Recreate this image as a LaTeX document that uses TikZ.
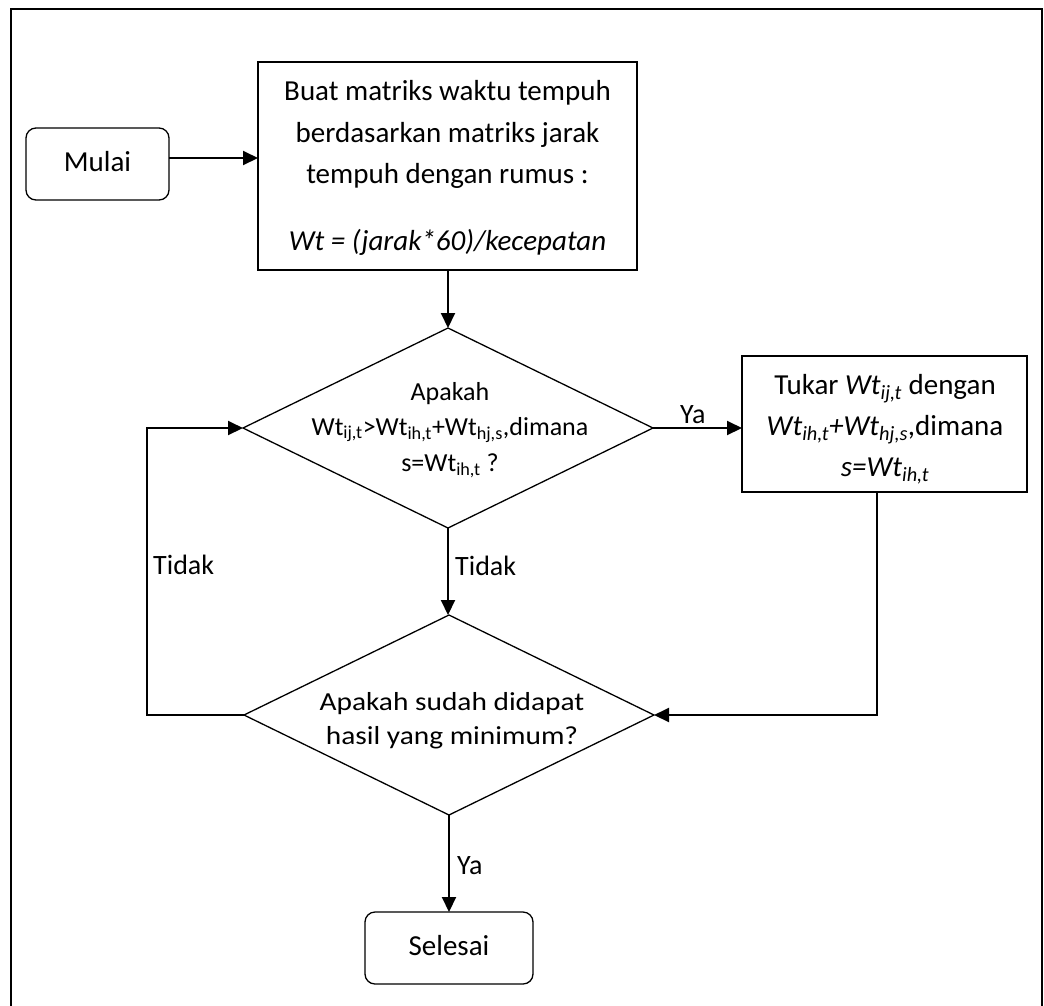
\documentclass[tikz,border=0pt]{standalone}
\usepackage{fontspec}
\setmainfont{Carlito}
\usetikzlibrary{arrows.meta,shapes.geometric}
\begin{document}
\begin{tikzpicture}[x=1pt,y=-1pt,
  shapeline/.style={draw, line width=1.3pt, inner sep=0pt, outer sep=0pt},
  term/.style={shapeline, rectangle, rounded corners=10pt},
  proc/.style={shapeline, rectangle},
  dec/.style={shapeline, diamond, minimum width=410pt, minimum height=200pt},
  conn/.style={line width=2pt, -{Triangle[length=15pt,width=14pt]}},
  plain/.style={line width=2pt},
  txt/.style={anchor=base, inner sep=0pt, font=\fontsize{29}{35}\selectfont},
  dtxt/.style={anchor=base, inner sep=0pt, font=\fontsize{26}{32}\selectfont},
  lbl/.style={anchor=base west, inner sep=0pt, font=\fontsize{28}{34}\selectfont}]
\useasboundingbox (0,0) rectangle (1044,1005);
\draw[plain] (11,1008) -- (11,9) -- (1042,9) -- (1042,1008);

% shapes
\node[term, minimum width=143pt, minimum height=72pt] (mulai) at (97.5,164) {};
\node[proc, minimum width=379pt, minimum height=208pt] (buat) at (447.5,166) {};
\node[dec] (d1) at (448,428) {};
\node[proc, minimum width=285pt, minimum height=136pt] (tukar) at (884.5,424) {};
\node[dec] (d2) at (449,715) {};
\node[term, minimum width=168pt, minimum height=72pt] (selesai) at (449,948) {};

% texts
\node[txt] (mulait) at (97.5,171.7) {Mulai};
\node[txt] (buat1) at (447.5,100) {Buat matriks waktu tempuh};
\node[txt] (buat2) at (447.5,142) {berdasarkan matriks jarak};
\node[txt] (buat3) at (447.5,183) {tempuh dengan rumus :};
\node[txt] (buat4) at (447.5,250) {\itshape Wt = (jarak*60)/kecepatan};
\node[dtxt] (d1a) at (450,400) {Apakah};
\node[dtxt] (d1b) at (450,435) {Wt\textsubscript{ij,t}>Wt\textsubscript{ih,t}+Wt\textsubscript{hj,s},dimana};
\node[dtxt] (d1c) at (450,471.7) {s=Wt\textsubscript{ih,t} ?};
\node[txt] (tk1) at (885,394) {Tukar \textit{Wt\textsubscript{ij,t}} dengan};
\node[txt] (tk2) at (885,435) {\textit{Wt\textsubscript{ih,t}+Wt\textsubscript{hj,s}},dimana};
\node[txt] (tk3) at (885,476) {\textit{s=Wt\textsubscript{ih,t}}};
\node[dtxt] (d2a) at (452,710) {\scalebox{1.13}[1]{Apakah sudah didapat}};
\node[dtxt] (d2b) at (452,744) {\scalebox{1.13}[1]{hasil yang minimum?}};
\node[txt] (selesait) at (449,955.7) {Selesai};

% connectors
\coordinate (lp) at (147,715);
\draw[conn] ([yshift=6pt]mulai.east) -- ([yshift=6pt]mulai.east -| buat.west);
\draw[conn] (buat.south -| d1.north) -- (d1.north);
\draw[conn] (d1.east) -- (d1.east -| tukar.west);
\draw[conn] (d1.south) -- (d1.south |- d2.north);
\draw[conn] ([xshift=-7.5pt]tukar.south) |- (d2.east);
\draw[conn] (d2.west) -- (lp) |- (d1.west);
\draw[conn] (d2.south) -- (d2.south |- selesai.north);

% labels
\node[lbl] (ya1) at (680,423) {Ya};
\node[lbl] (tidak1) at (455,575) {Tidak};
\node[lbl] (tidak2) at (153,574) {Tidak};
\node[lbl] (ya2) at (457,874) {Ya};
\end{tikzpicture}
\end{document}
